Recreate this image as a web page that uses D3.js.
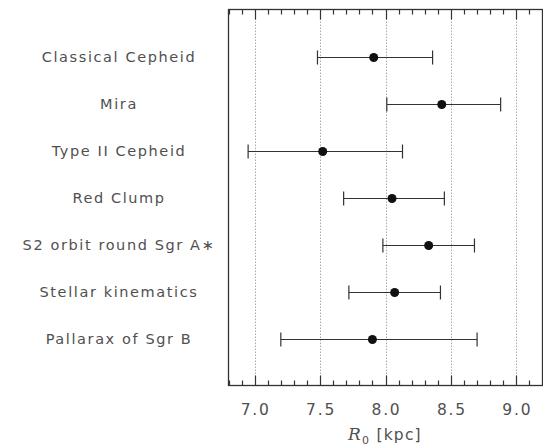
<!DOCTYPE html>
<html><head><meta charset="utf-8">
<script src="https://cdn.jsdelivr.net/npm/d3@7"></script>
<style>body{margin:0;background:#fff}</style>
</head><body>
<svg id="c" width="543" height="447"></svg>
<script>
const categories = ["Classical Cepheid","Mira","Type II Cepheid","Red Clump","S2 orbit round Sgr A\u2217","Stellar kinematics","Pallarax of Sgr B"];
const values = [7.91, 8.43, 7.52, 8.05, 8.33, 8.07, 7.90];
const lowers = [7.48, 8.01, 6.95, 7.68, 7.98, 7.72, 7.20];
const uppers = [8.36, 8.88, 8.13, 8.45, 8.68, 8.42, 8.70];
const majorTicks = [7.0, 7.5, 8.0, 8.5, 9.0];
const tickLabels = ["7.0","7.5","8.0","8.5","9.0"];

const svg = d3.select("#c");
const L = 228.5, R = 542.5, T = 9.5, B = 385.5;
const x = d3.scaleLinear().domain([6.8, 9.2]).range([L, R]);
const y = d3.scalePoint().domain(categories).range([T, B]).padding(1);
const ink = "#333";
const txt = "#505050";

// grid
svg.append("g").selectAll("line").data(majorTicks).join("line")
  .attr("x1", d => Math.round(x(d)) + 0.5).attr("x2", d => Math.round(x(d)) + 0.5)
  .attr("y1", T).attr("y2", B)
  .attr("stroke", "#aaa").attr("stroke-width", 1).attr("stroke-dasharray", "1.5,1.5");

// frame
svg.append("rect").attr("x", L).attr("y", T).attr("width", R - L).attr("height", B - T)
  .attr("fill", "none").attr("stroke", ink).attr("stroke-width", 1.3);

// ticks
const minor = d3.range(68, 93).map(v => v / 10);
const isMajor = v => Math.abs(v * 2 - Math.round(v * 2)) < 1e-6;
const tk = svg.append("g");
tk.selectAll("line.tb").data(minor).join("line").attr("class","tb")
  .attr("x1", d => Math.round(x(d)) + 0.5).attr("x2", d => Math.round(x(d)) + 0.5)
  .attr("y1", T).attr("y2", d => T + (isMajor(d) ? 10 : 5))
  .attr("stroke", ink).attr("stroke-width", 1.2);
tk.selectAll("line.bb").data(minor).join("line").attr("class","bb")
  .attr("x1", d => Math.round(x(d)) + 0.5).attr("x2", d => Math.round(x(d)) + 0.5)
  .attr("y1", B).attr("y2", d => B - (isMajor(d) ? 10 : 5))
  .attr("stroke", ink).attr("stroke-width", 1.2);

// tick labels
svg.append("g").selectAll("text").data(majorTicks).join("text")
  .attr("x", d => x(d) + 1).attr("y", 415)
  .attr("text-anchor", "middle")
  .attr("font-family", "DejaVu Sans").attr("font-size", 15.5).attr("letter-spacing", 1.8)
  .attr("fill", txt)
  .text((d, i) => tickLabels[i]);

// axis title
const xt = svg.append("text").attr("x", 385).attr("y", 440).attr("text-anchor", "middle")
  .attr("font-family", "DejaVu Sans").attr("font-size", 15.5).attr("fill", txt)
  .attr("letter-spacing", 1.2);
xt.append("tspan").attr("font-family", "DejaVu Serif").attr("font-style", "italic").attr("font-size", 17).text("R");
xt.append("tspan").attr("font-size", 11).attr("dy", 4).text("0");
xt.append("tspan").attr("dy", -4).text("  [kpc]");

// error bars
const g = svg.append("g");
categories.forEach((c, i) => {
  const yy = Math.round(y(c)) + 0.5;
  g.append("line").attr("x1", x(lowers[i])).attr("x2", x(uppers[i])).attr("y1", yy).attr("y2", yy)
    .attr("stroke", ink).attr("stroke-width", 1.2);
  [lowers[i], uppers[i]].forEach(v => {
    g.append("line").attr("x1", x(v)).attr("x2", x(v)).attr("y1", yy - 7).attr("y2", yy + 7)
      .attr("stroke", ink).attr("stroke-width", 1.2);
  });
  g.append("circle").attr("cx", x(values[i])).attr("cy", yy).attr("r", 4.5).attr("fill", "#111");
});

// category labels
svg.append("g").selectAll("text").data(categories).join("text")
  .attr("x", 119).attr("y", d => y(d) + 5)
  .attr("text-anchor", "middle")
  .attr("font-family", "DejaVu Sans").attr("font-size", 14.5).attr("letter-spacing", 1.6)
  .attr("fill", txt)
  .text(d => d);
</script>
</body></html>
